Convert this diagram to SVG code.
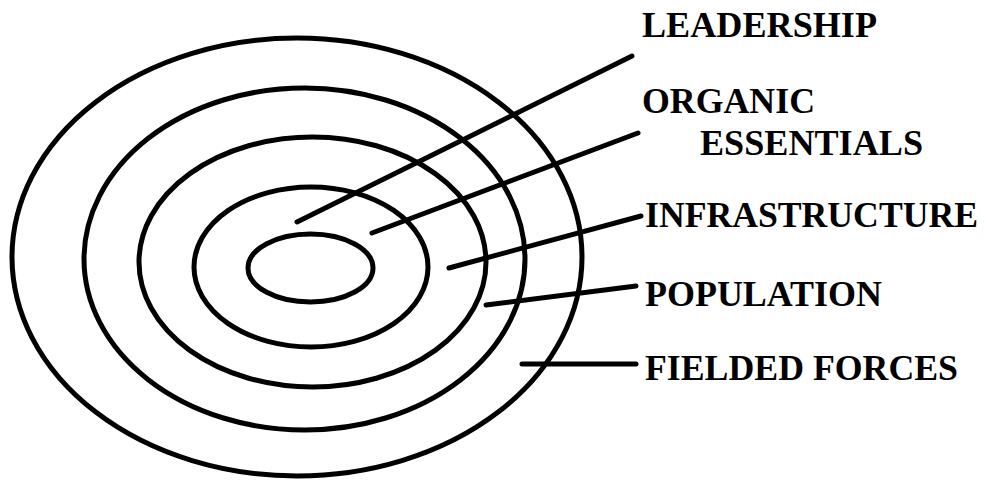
<svg xmlns="http://www.w3.org/2000/svg" width="985" height="481" viewBox="0 0 985 481">
<style>
.ring{fill:none;stroke:#000;stroke-width:5}
.lead{stroke:#000;stroke-width:5;stroke-linecap:round;fill:none}
.lbl{font-family:"Liberation Serif","Times New Roman",serif;font-weight:bold;font-size:35px;fill:#000}
</style>
<rect width="985" height="481" fill="#fff"/>
<g id="rings">
<ellipse id="ring-fielded" class="ring" cx="297" cy="257" rx="285" ry="219"/>
<ellipse id="ring-population" class="ring" cx="304.5" cy="259" rx="220.5" ry="171"/>
<ellipse id="ring-infrastructure" class="ring" cx="312.5" cy="262" rx="173.5" ry="125"/>
<ellipse id="ring-organic" class="ring" cx="311" cy="267" rx="117" ry="80"/>
<ellipse id="ring-leadership" class="ring" cx="310.5" cy="268" rx="62.5" ry="34"/>
</g>
<g id="connectors">
<line class="lead" x1="297" y1="222" x2="632" y2="56"/>
<line class="lead" x1="372" y1="233" x2="638" y2="133"/>
<line class="lead" x1="449" y1="268" x2="641" y2="216"/>
<line class="lead" x1="486" y1="305" x2="636" y2="286"/>
<line class="lead" x1="522" y1="364" x2="636" y2="364"/>
</g>
<g id="label-leadership"><text class="lbl" x="642" y="37" textLength="235" lengthAdjust="spacingAndGlyphs">LEADERSHIP</text></g>
<g id="label-organic"><text class="lbl" x="642" y="113" textLength="173" lengthAdjust="spacingAndGlyphs">ORGANIC</text><text class="lbl" x="700" y="155" textLength="223" lengthAdjust="spacingAndGlyphs">ESSENTIALS</text></g>
<g id="label-infrastructure"><text class="lbl" x="645" y="227" textLength="333" lengthAdjust="spacingAndGlyphs">INFRASTRUCTURE</text></g>
<g id="label-population"><text class="lbl" x="645" y="306" textLength="237" lengthAdjust="spacingAndGlyphs">POPULATION</text></g>
<g id="label-fielded"><text class="lbl" x="645" y="380" textLength="313" lengthAdjust="spacingAndGlyphs">FIELDED FORCES</text></g>
</svg>
